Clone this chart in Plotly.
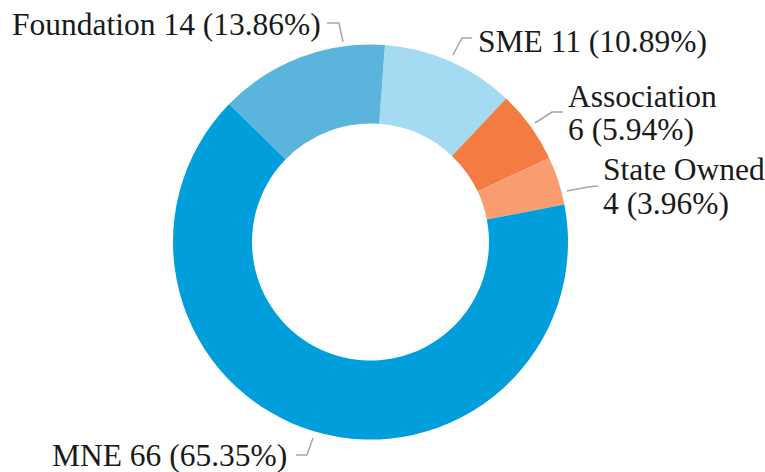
import plotly.graph_objects as go

# ---- data ----
categories = ["SME", "Association", "State Owned", "MNE", "Foundation"]
counts = [11, 6, 4, 66, 14]
colors = ["#A4DBF3", "#F47C43", "#F99D71", "#009FDC", "#5AB4DB"]

W, H = 765, 472
total = sum(counts)
pct = [c / total * 100 for c in counts]

# label layout (pixel positions of text and leader lines)
label_layout = {
    "Foundation": dict(x=323, ys=[23], xanchor="right",
                       path=[(327, 23), (339, 23), (343, 42)]),
    "SME": dict(x=476, ys=[40], xanchor="left",
                path=[(472, 38), (462, 38), (453, 55)]),
    "Association": dict(x=566, ys=[94, 127], xanchor="left",
                        path=[(563, 112), (552, 112), (535, 123)]),
    "State Owned": dict(x=601, ys=[168, 201.5], xanchor="left",
                        path=[(598, 186), (588, 187), (567, 191)]),
    "MNE": dict(x=289, ys=[453], xanchor="right",
                path=[(296, 455), (307, 455), (313, 438)]),
}
two_line = {"Association", "State Owned"}

def px(x):
    return x / W

def py(y):
    return 1 - y / H

cx, cy, R = 370.5, 242, 197.5

fig = go.Figure(go.Pie(
    labels=categories,
    values=counts,
    sort=False,
    direction="clockwise",
    rotation=4.2,
    hole=0.6,
    marker=dict(colors=colors, line=dict(width=0)),
    textinfo="none",
    hoverinfo="label+value+percent",
    showlegend=False,
    domain=dict(x=[px(cx - R), px(cx + R)], y=[py(cy + R), py(cy - R)]),
))

font = dict(family="Liberation Serif, Times New Roman, serif", size=31.5, color="#1a1a1a")
annotations = []
shapes = []
for cat, c, p in zip(categories, counts, pct):
    lay = label_layout[cat]
    if cat in two_line:
        lines = [cat, f"{c} ({p:.2f}%)"]
    else:
        lines = [f"{cat} {c} ({p:.2f}%)"]
    for txt, y in zip(lines, lay["ys"]):
        annotations.append(dict(
            text=txt, x=px(lay["x"]), y=py(y + 2), xref="paper", yref="paper",
            xanchor=lay["xanchor"], yanchor="middle", showarrow=False, font=font,
        ))
    pts = lay["path"]
    d = "M " + " L ".join(f"{px(a)},{py(b)}" for a, b in pts)
    shapes.append(dict(type="path", path=d, xref="paper", yref="paper",
                       line=dict(color="#A6A6A6", width=1.5)))

fig.update_layout(
    width=W, height=H,
    margin=dict(l=0, r=0, t=0, b=0),
    paper_bgcolor="white",
    plot_bgcolor="white",
    annotations=annotations,
    shapes=shapes,
)

fig.write_html("out.html", config={"displayModeBar": False},
               post_script="document.body.style.margin='0px';")
